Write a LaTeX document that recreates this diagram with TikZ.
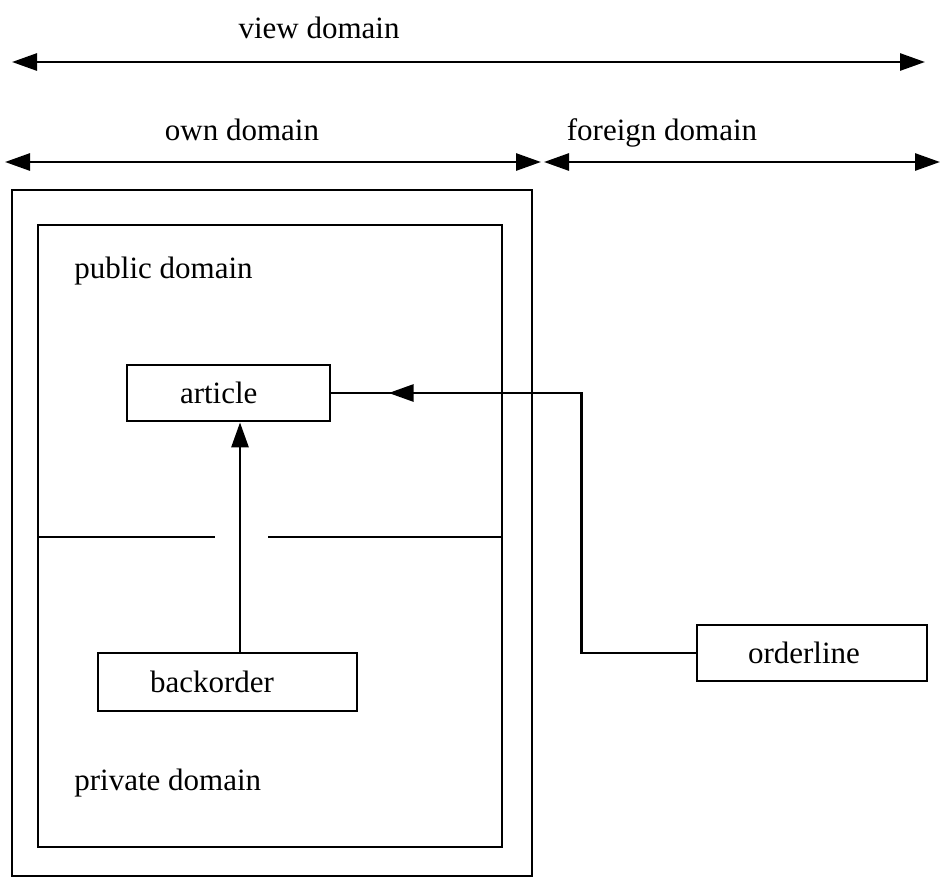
\documentclass[tikz,border=0pt]{standalone}
\usepackage{fontspec}
\setmainfont{Liberation Serif}
\usetikzlibrary{arrows.meta,decorations.markings}
\begin{document}
\begin{tikzpicture}[x=1pt,y=-1pt,line width=2.8pt,
  tipst/.style={-{Triangle[length=25pt,width=17pt]}},
  dbl/.style={{Triangle[length=25pt,width=17pt]}-{Triangle[length=25pt,width=17pt]}},
  txt/.style={font=\fontsize{31}{37}\selectfont},
  box/.style={draw,line width=2.8pt,txt,align=left,inner ysep=0pt,minimum height=56pt},
  frame/.style={draw,line width=2.8pt,inner sep=0pt},
  lbl/.style={txt,inner sep=0pt}]
\useasboundingbox (0,0) rectangle (940,879);
% domain arrows
\coordinate (v1) at (12,62);
\coordinate (v2) at (925,62);
\draw[dbl] (v1) -- (v2);
\node[lbl,anchor=base] (vd) at (319,38) {view domain};
\coordinate (o1) at (5,162);
\coordinate (o2) at (541,162);
\coordinate (f1) at (544,162);
\coordinate (f2) at (940,162);
\draw[dbl] (o1) -- (o2);
\draw[dbl] (f1) -- (f2);
\node[lbl,anchor=base] (od) at (242,140) {own domain};
\node[lbl,anchor=base] (fd) at (662,140) {foreign domain};
% frames
\node[frame,minimum width=520pt,minimum height=686pt] (outer) at (272,533) {};
\node[frame,minimum width=464pt,minimum height=622pt] (inner) at (270,536) {};
\coordinate (dl) at (38,537);
\coordinate (g1) at (215,537);
\coordinate (g2) at (268,537);
\coordinate (dr) at (502,537);
\draw (dl) -- (g1);
\draw (g2) -- (dr);
\node[lbl,anchor=base west] (pub) at (73,278) {public domain};
\node[lbl,anchor=base west] (priv) at (73,790) {private domain};
% boxes
\node[box,text width=97pt,inner xsep=53pt] (article) at (228.5,393) {article};
\node[box,text width=155pt,inner xsep=52pt,minimum height=58pt] (backorder) at (227.5,682) {backorder};
\node[box,text width=128pt,inner xsep=51pt] (orderline) at (812,653) {orderline};
% connectors
\coordinate (vx) at (240,0);
\draw[tipst] (backorder.north -| vx) -- (article.south -| vx);
\draw[postaction={decorate},decoration={markings,
  mark=at position 567pt with {\arrow{Triangle[length=25pt,width=17pt]}}}]
  (orderline.west) -- ++(-114,0) |- (article.east);
\end{tikzpicture}
\end{document}
